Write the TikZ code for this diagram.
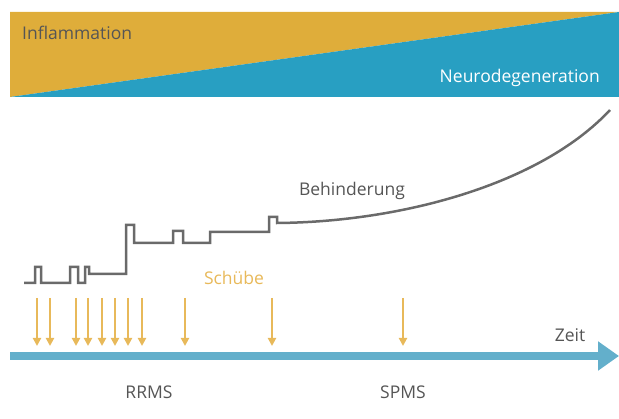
\documentclass[tikz,border=0pt]{standalone}
\usepackage{fontspec}
\setmainfont{Open Sans}
\usetikzlibrary{arrows.meta}

\definecolor{gelb}{HTML}{DFAD3A}
\definecolor{blau}{HTML}{289FC2}
\definecolor{achse}{HTML}{63AFCB}
\definecolor{schub}{HTML}{E8B95A}
\definecolor{grau}{HTML}{6A6A6A}
\definecolor{schrift}{HTML}{555555}

\begin{document}
\begin{tikzpicture}[x=1pt, y=-1pt, font=\fontsize{17.5}{21}\selectfont,
  label/.style={text=schrift, inner sep=0pt},
  schubpfeil/.style={schub, line width=2pt, -{Triangle[length=8pt, width=8pt]}}]
  \useasboundingbox (0,0) rectangle (619,419);

  % Balken oben
  \fill[gelb] (10,12) -- (619,12) -- (10,97) -- cycle;
  \fill[blau] (619,12) -- (619,97) -- (10,97) -- cycle;
  \node[label, anchor=west] (infl) at (22,33) {Inflammation};
  \node[label, anchor=east, text=white] (neuro) at (600,78) {Neurodegeneration};

  % Behinderung
  \draw[grau, line width=2.5pt, line join=miter]
    (24,283) -- (35,283) -- (35,267) -- (41,267) -- (41,283) -- (70,283)
    -- (70,267) -- (78,267) -- (78,283) -- (85,283) -- (85,267) -- (89,267)
    -- (89,274) -- (126,274) -- (126,225) -- (134,225) -- (134,243)
    -- (173,243) -- (173,231) -- (183,231) -- (183,243) -- (210,243)
    -- (210,232) -- (269,232) -- (269,217) -- (277,217) -- (277,223)
    .. controls (400,222) and (540,185) .. (610,110);
  \node[label] (beh) at (352,191) {Behinderung};

  % Schübe
  \node[label, text=schub] (schuebe) at (234,278) {Schübe};
  \foreach \x in {37,50,76,88,102,115,128,142,185,272,403}
    \draw[schubpfeil] (\x,298) -- (\x,346);

  % Zeitachse
  \coordinate (start) at (10,356);
  \coordinate (ende) at (619,356);
  \draw[achse, line width=8pt, -{Triangle[length=21pt, width=28pt]}] (start) -- (ende);
  \node[label] (zeit) at (570,335) {Zeit};
  \node[label] (rrms) at (149,392) {RRMS};
  \node[label] (spms) at (403,392) {SPMS};
\end{tikzpicture}
\end{document}
